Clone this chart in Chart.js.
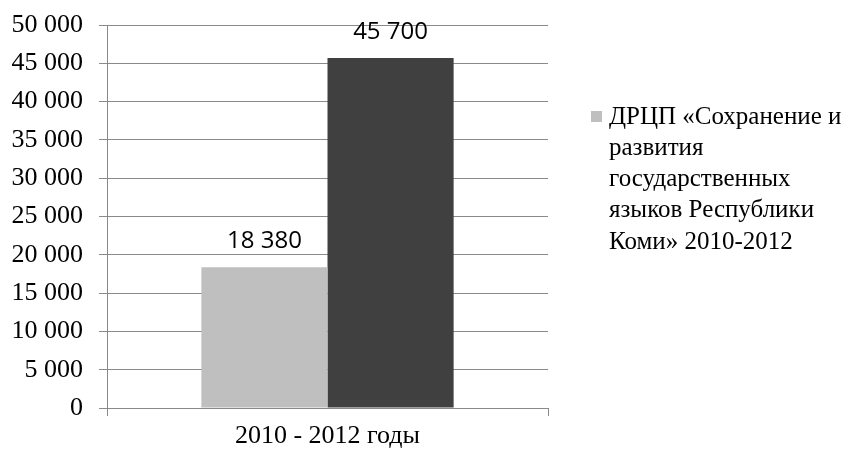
<!DOCTYPE html>
<html>
<head>
<meta charset="utf-8">
<script src="https://cdn.jsdelivr.net/npm/chart.js@4/dist/chart.umd.min.js"></script>
<style>
html,body{margin:0;padding:0;background:#fff;}
canvas{display:block;}
</style>
</head>
<body>
<canvas id="c" width="862" height="450"></canvas>
<script>
const categories = ['2010 - 2012 годы'];
const legendLines = ['ДРЦП «Сохранение и', 'развития', 'государственных', 'языков Республики', 'Коми» 2010-2012'];
const seriesA = [18380];
const seriesB = [45700];
const yMin = 0, yMax = 50000, yStep = 5000;

function fmt(v) {
  return String(Math.round(v)).replace(/\B(?=(\d{3})+(?!\d))/g, ' ');
}

const GRID = '#8a8a8a';
const SERIF = '"Liberation Serif", "Times New Roman", serif';

const valueLabels = {
  id: 'valueLabels',
  afterDatasetsDraw(chart) {
    const ctx = chart.ctx;
    ctx.save();
    ctx.font = '24px "Open Sans", sans-serif';
    ctx.fillStyle = '#000';
    ctx.textAlign = 'center';
    ctx.textBaseline = 'middle';
    chart.data.datasets.forEach((ds, i) => {
      chart.getDatasetMeta(i).data.forEach((el, j) => {
        ctx.fillText(fmt(ds.data[j]), el.x, el.y - 26);
      });
    });
    ctx.restore();
  }
};

const sideLegend = {
  id: 'sideLegend',
  afterDraw(chart) {
    const ctx = chart.ctx;
    const ds = chart.data.datasets[0];
    const x0 = chart.chartArea.right + 43;
    const y0 = 117;
    ctx.save();
    ctx.fillStyle = ds.backgroundColor;
    ctx.fillRect(x0, y0 - 6, 11, 11);
    ctx.font = '25px ' + SERIF;
    ctx.fillStyle = '#000';
    ctx.textAlign = 'left';
    ctx.textBaseline = 'middle';
    ds.label.forEach((line, k) => {
      ctx.fillText(line, x0 + 18, y0 + k * 31.3);
    });
    ctx.restore();
  }
};

new Chart(document.getElementById('c'), {
  type: 'bar',
  data: {
    labels: categories,
    datasets: [
      { label: legendLines, data: seriesA, backgroundColor: '#bfbfbf', borderWidth: 0 },
      { label: '', data: seriesB, backgroundColor: '#404040', borderWidth: 0 }
    ]
  },
  options: {
    responsive: false,
    animation: false,
    layout: { padding: { top: 25, right: 314, bottom: 0, left: 0 } },
    datasets: { bar: { categoryPercentage: 0.572, barPercentage: 1 } },
    plugins: { legend: { display: false }, tooltip: { enabled: false } },
    scales: {
      y: {
        min: yMin, max: yMax,
        ticks: {
          stepSize: yStep,
          color: '#000',
          padding: 16,
          font: { family: SERIF, size: 26 },
          callback: v => fmt(v)
        },
        grid: { color: GRID, tickLength: 8, lineWidth: 1 },
        border: { color: GRID },
        afterFit: s => { s.width = 107; s.paddingTop = 0; s.paddingBottom = 0; }
      },
      x: {
        offset: true,
        ticks: {
          color: '#000',
          padding: 5,
          font: { family: SERIF, size: 26 }
        },
        grid: { display: true, drawOnChartArea: false, color: GRID, tickLength: 8, offset: true },
        border: { color: GRID },
        afterFit: s => { s.height = 42; s.paddingLeft = 0; s.paddingRight = 0; }
      }
    }
  },
  plugins: [valueLabels, sideLegend]
});
</script>
</body>
</html>
